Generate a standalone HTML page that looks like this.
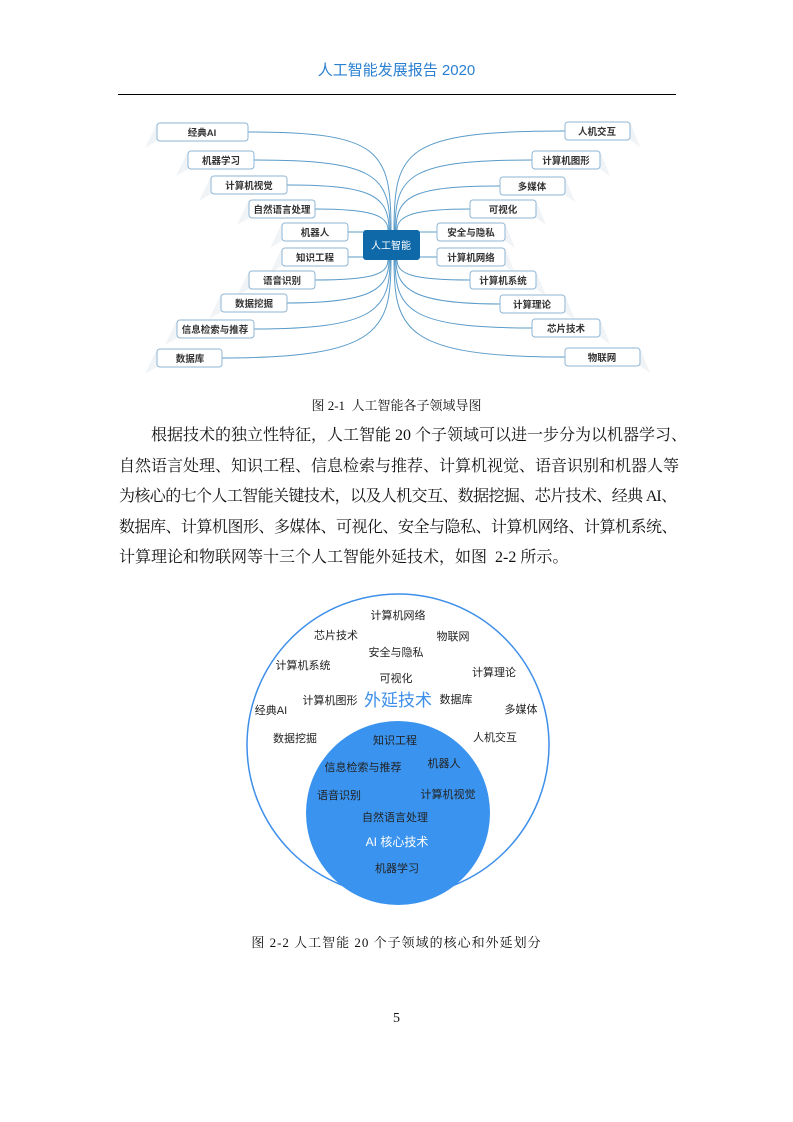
<!DOCTYPE html>
<html><head><meta charset="utf-8"><style>
body{margin:0;background:#fff;}
#p{position:relative;width:793px;height:1122px;overflow:hidden;font-family:"Liberation Serif","Noto Serif CJK SC",serif;color:#111;}
.a{position:absolute;white-space:nowrap;}
.ln{position:absolute;left:119px;width:557px;font-size:16px;text-align:justify;text-align-last:justify;line-height:20px;white-space:nowrap;}
</style></head><body><div id="p">
<div class="a" style="left:0;width:793px;text-align:center;top:59px;font-size:15px;color:#2a7fd0;font-family:'Liberation Sans','Noto Sans CJK SC',sans-serif;">人工智能发展报告 2020</div>
<div class="a" style="left:118px;top:94px;width:558px;height:1px;background:#000"></div>

<svg class="a" style="left:0;top:0" width="793" height="400" font-family="Liberation Sans,Noto Sans CJK SC,sans-serif">
<g fill="#f1f4f7">
<polygon points="157,123 157,141 145,148"/><polygon points="188,151 188,169 176,176"/><polygon points="211,176 211,194 199,201"/><polygon points="249,200 249,218 237,225"/><polygon points="282,223 282,241 270,248"/><polygon points="282,248 282,266 270,273"/><polygon points="249,271 249,289 237,296"/><polygon points="221,294 221,312 209,319"/><polygon points="177,320 177,338 165,345"/><polygon points="157,349 157,367 145,374"/>
<polygon points="630,122 630,140 640,147"/><polygon points="600,151 600,169 610,176"/><polygon points="565,177 565,195 575,202"/><polygon points="536,200 536,218 546,225"/><polygon points="505,223 505,241 515,248"/><polygon points="505,248 505,266 515,273"/><polygon points="536,271 536,289 546,296"/><polygon points="565,295 565,313 575,320"/><polygon points="600,319 600,337 610,344"/><polygon points="640,348 640,366 650,373"/>
</g>
<g fill="none" stroke="#5a9bc9" stroke-width="1">
<path d="M248,132 C380,132 391,150 391,230"/><path d="M254,160 C375,160 390,175 390,230"/><path d="M287,185 C370,185 389,195 389,230"/><path d="M315,209 C370,209 388,215 388,230"/><path d="M348,232 H363"/><path d="M348,257 H363"/><path d="M315,280 C370,280 388,275 388,260"/><path d="M287,303 C370,303 389,290 389,260"/><path d="M254,329 C375,329 390,310 390,260"/><path d="M222,358 C380,358 391,330 391,260"/>
<path d="M565,131 C405,131 394,150 394,230"/><path d="M532,160 C410,160 395,175 395,230"/><path d="M500,186 C415,186 396,195 396,230"/><path d="M470,209 C415,209 397,215 397,230"/><path d="M437,232 H420"/><path d="M437,257 H420"/><path d="M470,280 C415,280 397,275 397,260"/><path d="M500,304 C415,304 396,290 396,260"/><path d="M532,328 C410,328 395,310 395,260"/><path d="M565,357 C405,357 394,330 394,260"/>
</g>
<g fill="#fff" stroke="#8fb6d4" stroke-width="1">
<rect x="157" y="123" width="91" height="18" rx="3"/><rect x="188" y="151" width="66" height="18" rx="3"/><rect x="211" y="176" width="76" height="18" rx="3"/><rect x="249" y="200" width="66" height="18" rx="3"/><rect x="282" y="223" width="66" height="18" rx="3"/><rect x="282" y="248" width="66" height="18" rx="3"/><rect x="249" y="271" width="66" height="18" rx="3"/><rect x="221" y="294" width="66" height="18" rx="3"/><rect x="177" y="320" width="77" height="18" rx="3"/><rect x="157" y="349" width="65" height="18" rx="3"/>
<rect x="565" y="122" width="65" height="18" rx="3"/><rect x="532" y="151" width="68" height="18" rx="3"/><rect x="500" y="177" width="65" height="18" rx="3"/><rect x="470" y="200" width="66" height="18" rx="3"/><rect x="437" y="223" width="68" height="18" rx="3"/><rect x="437" y="248" width="68" height="18" rx="3"/><rect x="470" y="271" width="66" height="18" rx="3"/><rect x="500" y="295" width="65" height="18" rx="3"/><rect x="532" y="319" width="68" height="18" rx="3"/><rect x="565" y="348" width="75" height="18" rx="3"/>
</g>
<rect x="363" y="230" width="57" height="30" rx="3" fill="#0f68a8"/>
<text x="391" y="249" font-size="10" fill="#fff" text-anchor="middle">人工智能</text>
<g font-size="9.5" font-weight="bold" fill="#333" text-anchor="middle">
<text x="202" y="136">经典AI</text><text x="221" y="164">机器学习</text><text x="249" y="189">计算机视觉</text><text x="282" y="213">自然语言处理</text><text x="315" y="236">机器人</text><text x="315" y="261">知识工程</text><text x="282" y="284">语音识别</text><text x="254" y="307">数据挖掘</text><text x="215" y="333">信息检索与推荐</text><text x="190" y="362">数据库</text>
<text x="597" y="135">人机交互</text><text x="566" y="164">计算机图形</text><text x="532" y="190">多媒体</text><text x="503" y="213">可视化</text><text x="471" y="236">安全与隐私</text><text x="471" y="261">计算机网络</text><text x="503" y="284">计算机系统</text><text x="532" y="308">计算理论</text><text x="566" y="332">芯片技术</text><text x="602" y="361">物联网</text>
</g>
</svg>

<div class="a" style="left:0;width:793px;text-align:center;top:395px;font-size:13px;">图 2-1&nbsp; 人工智能各子领域导图</div>

<div class="ln" style="top:426px;left:151px;width:525px">根据技术的独立性特征，人工智能 20 个子领域可以进一步分为以机器学习、</div>
<div class="ln" style="top:457px">自然语言处理、知识工程、信息检索与推荐、计算机视觉、语音识别和机器人等</div>
<div class="ln" style="top:487px;letter-spacing:-1.1px">为核心的七个人工智能关键技术，以及人机交互、数据挖掘、芯片技术、经典 AI、</div>
<div class="ln" style="top:518px;letter-spacing:-0.5px">数据库、计算机图形、多媒体、可视化、安全与隐私、计算机网络、计算机系统、</div>
<div class="ln" style="top:548px;text-align-last:left;width:auto">计算理论和物联网等十三个人工智能外延技术，如图&nbsp; 2-2 所示。</div>

<svg class="a" style="left:0;top:590px" width="793" height="330" font-family="Liberation Sans,Noto Sans CJK SC,sans-serif">
<circle cx="398" cy="155" r="151" fill="#fff" stroke="#3d8fea" stroke-width="1.5"/>
<circle cx="398" cy="223" r="92" fill="#3a93ee"/>
<g font-size="11" fill="#222" text-anchor="middle">
<text x="398" y="29">计算机网络</text><text x="336" y="49">芯片技术</text><text x="453" y="50">物联网</text><text x="396" y="66">安全与隐私</text><text x="303" y="79">计算机系统</text><text x="494" y="86">计算理论</text><text x="396" y="92">可视化</text><text x="330" y="114">计算机图形</text><text x="456" y="113">数据库</text><text x="271" y="124">经典AI</text><text x="521" y="123">多媒体</text><text x="295" y="152">数据挖掘</text><text x="495" y="151">人机交互</text>
<text x="395" y="154">知识工程</text><text x="363" y="181">信息检索与推荐</text><text x="444" y="177">机器人</text><text x="339" y="209">语音识别</text><text x="448" y="208">计算机视觉</text><text x="395" y="231">自然语言处理</text><text x="397" y="282">机器学习</text>
</g>
<text x="398" y="116" font-size="17" fill="#3d8fea" text-anchor="middle">外延技术</text>
<text x="397" y="256" font-size="12" fill="#fff" text-anchor="middle">AI 核心技术</text>
</svg>

<div class="a" style="left:0;width:793px;text-align:center;top:932px;font-size:13px;letter-spacing:1px">图 2-2 人工智能 20 个子领域的核心和外延划分</div>
<div class="a" style="left:0;width:793px;text-align:center;top:1011px;font-size:14px;">5</div>
</div></body></html>
